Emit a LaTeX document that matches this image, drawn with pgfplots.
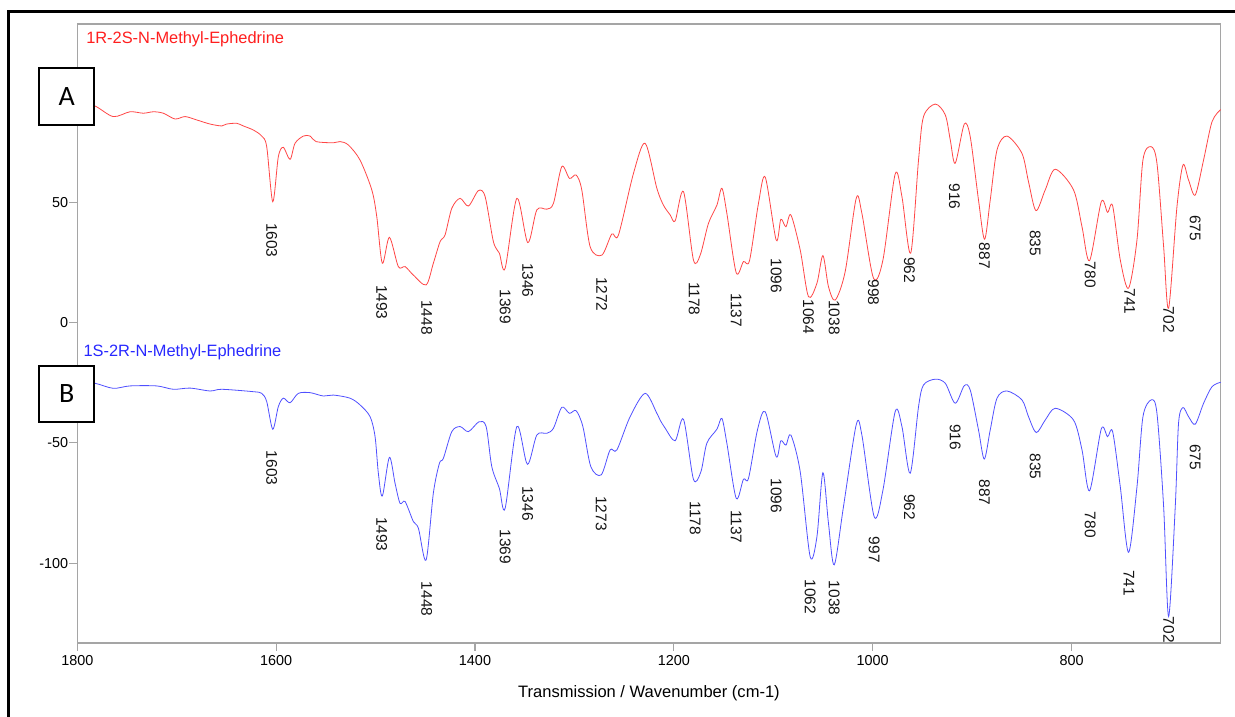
\documentclass[border=0pt]{standalone}
\usepackage{fontspec}
\setmainfont{Liberation Sans}
\newfontfamily\boxfont{Carlito}
\usepackage{pgfplots}
\pgfplotsset{compat=1.18}
\definecolor{redline}{RGB}{255,70,70}
\definecolor{blueline}{RGB}{80,80,255}
\definecolor{redtext}{RGB}{255,30,30}
\definecolor{bluetext}{RGB}{40,40,255}
\definecolor{axgray}{RGB}{165,165,165}
\begin{document}
\begin{tikzpicture}[plabel/.style={rotate=-90, anchor=west, inner sep=0pt, font=\fontsize{11.6}{13}\selectfont, text=black!92}]
\useasboundingbox (0,0) rectangle (926.25pt,537.75pt);
\begin{axis}[
  at={(57.98pt,55.5pt)}, anchor=south west,
  scale only axis, width=857.55pt, height=464.25pt,
  x dir=reverse, xmin=650, xmax=1800, ymin=-133.2, ymax=124.2,
  xtick={800,1000,1200,1400,1600,1800}, ytick={-100,-50,0,50},
  tick pos=left, tick align=outside, major tick length=6pt,
  axis line style={draw=axgray, line width=0.8pt},
  tick style={draw=axgray, line width=0.8pt},
  tick label style={font=\fontsize{10.8}{12}\selectfont},
  yticklabel style={inner xsep=0.6pt},
  /pgf/number format/assume math mode=true,
  /pgf/number format/1000 sep={},
  scaled ticks=false,
  xlabel={Transmission / Wavenumber (cm-1)},
  xlabel style={at={(axis description cs:0.5,0)}, anchor=base, yshift=-41.25pt, font=\fontsize{12.4}{14}\selectfont},
  clip=false,
]
\addplot[redline, line width=0.6pt, smooth, tension=0.5] coordinates {
(1800,92) (1782.2,90.1) (1763.8,85.7) (1747.0,87.7) (1733.6,87.1) (1723.5,87.7) (1713.5,87.1)
(1701.7,84.7) (1691.6,85.7) (1679.9,84.3) (1666.5,82.6) (1654.7,81.8) (1649.7,82.6) (1639.6,82.9)
(1633.0,81.8) (1622.9,80.1) (1614.5,77.6) (1609.5,73.2) (1603.4,50.3) (1597.8,69) (1592.8,72.9)
(1586.0,67.9) (1581.0,74.6) (1572.6,77.6) (1565.9,77.6) (1559.9,75.3) (1542.5,74.8) (1535.7,75.3)
(1527.4,73.9) (1515.6,67.6) (1503.8,55.2) (1498.8,44.1) (1493.2,24.7) (1486.1,35.5) (1477.1,23.3)
(1470.3,23.3) (1462.0,19.8) (1449.2,15.7) (1441.9,24.7) (1435.1,33.7) (1430.1,36.5) (1423.3,47.6)
(1415.0,51.7) (1406.6,48.5) (1396.6,54.9) (1389.8,52.4) (1381.5,33.7) (1375.5,28.9) (1369.7,22.6)
(1357.9,51.7) (1346.9,33.3) (1337.8,46.9) (1327.8,47.2) (1321.1,49.6) (1312.7,64.9) (1305.0,60)
(1298.3,61.4) (1292.6,55.2) (1284.2,31.6) (1272.4,28.1) (1262.4,36.9) (1255.7,36.5) (1240.6,62.1)
(1228.9,74.6) (1217.1,55.9) (1210.5,48.9) (1203.7,44.8) (1198.7,42.3) (1190.3,54.5) (1180.3,26.1)
(1173.5,28.1) (1165.2,41.3) (1156.7,48.9) (1151.7,55.9) (1146.7,45.5) (1137.3,20.8) (1130.0,25.4)
(1123.9,25.8) (1114.9,49.6) (1108.1,60.5) (1097.1,34.4) (1092.4,43) (1087.3,39.9) (1082.3,44.8)
(1072.9,30.2) (1064.6,10.8) (1056.1,16.4) (1050.1,27.9) (1044.5,15) (1037.7,9.4) (1027.7,21.2)
(1016.6,51.7) (1010.9,45.5) (999.2,18.5) (989.7,26.1) (977.4,61.8) (970.6,52.4) (961.8,28.9)
(953.9,67.7) (948.9,85.7) (937.1,90.9) (927.0,86.4) (922.0,76) (917.0,66.3) (907.9,82.6)
(901.9,77.3) (893.6,51) (887.5,34.7) (881.8,51) (875.0,71.8) (865.0,77.6) (849.9,70.4)
(843.3,58.6) (835.8,46.6) (826.5,55.2) (816.4,63.8) (798.0,55.2) (789.5,39.9) (781.9,25.8)
(770.1,50.3) (763.8,45.9) (758.7,48.6) (751.0,26.1) (742.7,14.3) (734.2,34.4) (728.2,67.7)
(720.1,73.2) (714.1,66.3) (707.4,31.6) (702.4,6) (694.0,48.2) (687.9,65.6) (682.3,59.3)
(675.6,53.1) (667.2,67.7) (658.7,83.6) (650,88.6)
};
\addplot[blueline, line width=0.6pt, smooth, tension=0.5] coordinates {
(1800,-24.5) (1782.2,-25.2) (1763.8,-27.3) (1747.0,-26.3) (1720.1,-26.3) (1703.4,-27.7) (1686.6,-27.2)
(1666.5,-28.4) (1654.7,-27.7) (1622.9,-28.7) (1614.5,-29.4) (1609.5,-32.8) (1603.4,-44.3) (1597.8,-34.9)
(1592.8,-31.4) (1586.0,-33.3) (1577.7,-29.4) (1565.9,-29.1) (1552.5,-30.5) (1542.5,-30.1) (1525.7,-31.4)
(1515.6,-34.2) (1505.5,-39.1) (1500.5,-47.4) (1497.2,-62.6) (1493.2,-72.1) (1486.1,-56) (1480.4,-66.8)
(1475.4,-75.1) (1470.3,-74.4) (1462.0,-82.7) (1456.9,-85.5) (1449.2,-98.7) (1441.9,-70.9) (1435.8,-58.5)
(1431.8,-56.4) (1423.3,-45.3) (1415.0,-43.2) (1406.6,-45.3) (1395.9,-41.2) (1388.8,-43.2) (1383.1,-59.9)
(1375.5,-68.9) (1369.7,-77.2) (1357.9,-43.2) (1347.3,-58.9) (1337.8,-46.7) (1327.8,-46) (1321.1,-43.9)
(1312.7,-35.2) (1305.0,-37.7) (1298.3,-36.6) (1291.5,-43.2) (1283.5,-59.9) (1273.1,-63.3) (1264.1,-52.9)
(1257.3,-52.9) (1244.0,-39.1) (1228.9,-29.4) (1217.1,-37.7) (1213.8,-40.5) (1208.7,-43.9) (1198.7,-49.1)
(1190.3,-40.2) (1180.3,-65.1) (1172.8,-62) (1166.8,-50.1) (1156.7,-44.3) (1151.7,-39.8) (1146.7,-50.1)
(1137.3,-73) (1130.0,-65.1) (1124.9,-64.7) (1115.9,-44.6) (1108.1,-37) (1097.1,-55.7) (1092.4,-49.1)
(1087.3,-50.9) (1082.3,-46.7) (1072.9,-62) (1062.9,-97.3) (1056.1,-89) (1050.1,-62.4) (1044.5,-83.4)
(1038.7,-100.7) (1029.4,-76.5) (1016.6,-42.5) (1010.9,-46.7) (998.5,-80.7) (989.7,-69.6) (977.4,-37)
(970.6,-43.2) (962.3,-62.6) (953.9,-34.9) (948.9,-25.9) (937.1,-23.5) (927.0,-25.2) (917.0,-33.5)
(907.9,-26.2) (901.9,-28) (893.6,-44.6) (887.8,-56.7) (881.8,-44.6) (875.0,-31.4) (865.0,-28.4)
(849.9,-32.1) (843.3,-39.1) (835.5,-45.7) (826.5,-40.5) (816.4,-35.6) (798.0,-40.5) (789.5,-52.9)
(781.9,-69.9) (770.1,-44.2) (763.8,-47.4) (758.7,-45.3) (751.0,-68.2) (742.7,-95.5) (734.2,-68.2)
(728.2,-39.1) (719.8,-32.1) (714.1,-37.7) (707.4,-76.5) (702.4,-122.2) (695.7,-76.5) (692.4,-41.8)
(687.9,-35.3) (682.3,-39.1) (675.6,-42.2) (667.2,-33.5) (658.7,-26.6) (650,-24.8)
};
% peak labels, spectrum A
\node[plabel] at (axis cs:1604.4,41.5) {1603};
\node[plabel] at (axis cs:1493.8,15.7) {1493};
\node[plabel] at (axis cs:1448.5,9.4) {1448};
\node[plabel] at (axis cs:1369.7,13.9) {1369};
\node[plabel] at (axis cs:1346.9,24.9) {1346};
\node[plabel] at (axis cs:1272.4,19.1) {1272};
\node[plabel] at (axis cs:1179.6,17) {1178};
\node[plabel] at (axis cs:1137.3,12.2) {1137};
\node[plabel] at (axis cs:1097.1,26.8) {1096};
\node[plabel] at (axis cs:1064.6,9.7) {1064};
\node[plabel] at (axis cs:1038.7,9.4) {1038};
\node[plabel] at (axis cs:999.2,18) {998};
\node[plabel] at (axis cs:963,27.4) {962};
\node[plabel] at (axis cs:917.7,58) {916};
\node[plabel] at (axis cs:887.5,33.3) {887};
\node[plabel] at (axis cs:836.5,38.5) {835};
\node[plabel] at (axis cs:781.2,25.4) {780};
\node[plabel] at (axis cs:741.6,14.3) {741};
\node[plabel] at (axis cs:702.4,6.7) {702};
\node[plabel] at (axis cs:675.6,44.8) {675};
% peak labels, spectrum B
\node[plabel] at (axis cs:1604.4,-53.2) {1603};
\node[plabel] at (axis cs:1493.8,-80.7) {1493};
\node[plabel] at (axis cs:1448.5,-107.7) {1448};
\node[plabel] at (axis cs:1369.7,-85.9) {1369};
\node[plabel] at (axis cs:1346.9,-67.9) {1346};
\node[plabel] at (axis cs:1273.1,-72.1) {1273};
\node[plabel] at (axis cs:1178.6,-74.4) {1178};
\node[plabel] at (axis cs:1137.3,-77.9) {1137};
\node[plabel] at (axis cs:1097.1,-64.7) {1096};
\node[plabel] at (axis cs:1062.9,-106.7) {1062};
\node[plabel] at (axis cs:1038.7,-107.3) {1038};
\node[plabel] at (axis cs:998.5,-89) {997};
\node[plabel] at (axis cs:963,-71.2) {962};
\node[plabel] at (axis cs:917,-42.1) {916};
\node[plabel] at (axis cs:887.5,-65.1) {887};
\node[plabel] at (axis cs:836.5,-54.3) {835};
\node[plabel] at (axis cs:781.2,-78.6) {780};
\node[plabel] at (axis cs:742.2,-102.8) {741};
\node[plabel] at (axis cs:702.4,-122.2) {702};
\node[plabel] at (axis cs:675.6,-50.4) {675};
\end{axis}
% outer frame (cut by the picture edge on right and bottom)
\draw[line width=2pt, line cap=rect] (6.2pt,0pt) -- (6.2pt,529pt) -- (926.25pt,529pt);
% panel boxes
\filldraw[fill=white, draw=black, line width=1.5pt] (29.25pt,444.2pt) rectangle (70.7pt,486.5pt);
\node[inner sep=0pt, font=\boxfont\fontsize{21}{24}\selectfont] at (49.98pt,465.35pt) {A};
\filldraw[fill=white, draw=black, line width=1.5pt] (29.25pt,221.25pt) rectangle (70.7pt,263.5pt);
\node[inner sep=0pt, font=\boxfont\fontsize{21}{24}\selectfont] at (49.98pt,242.4pt) {B};
% series titles
\node[anchor=base west, inner sep=0pt, text=redtext, font=\fontsize{12.3}{14}\selectfont] at (64.5pt,504.75pt) {1R-2S-N-Methyl-Ephedrine};
\node[anchor=base west, inner sep=0pt, text=bluetext, font=\fontsize{12.3}{14}\selectfont] at (62.5pt,270.2pt) {1S-2R-N-Methyl-Ephedrine};
\end{tikzpicture}
\end{document}
